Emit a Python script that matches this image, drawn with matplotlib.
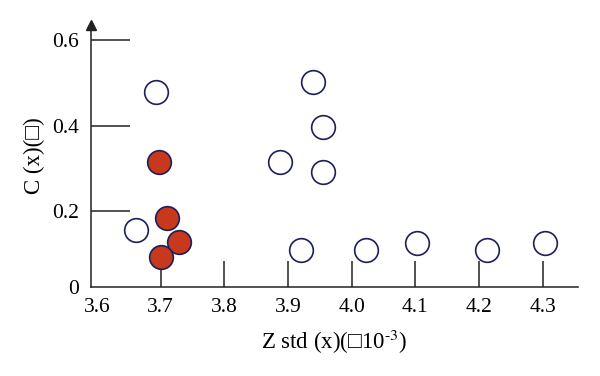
import numpy as np
import matplotlib
matplotlib.use("Agg")
import matplotlib.pyplot as plt

plt.rcParams['font.family'] = ['Liberation Serif', 'DejaVu Sans']
plt.rcParams['mathtext.fontset'] = 'stix'

# open circles
open_x = [3.692, 3.661, 3.888, 3.921, 3.940, 3.955, 3.955, 4.022, 4.102, 4.213, 4.303]
open_y = [0.478, 0.156, 0.316, 0.111, 0.503, 0.396, 0.291, 0.111, 0.127, 0.111, 0.127]
# filled circles
fill_x = [3.697, 3.710, 3.729, 3.700]
fill_y = [0.316, 0.184, 0.128, 0.094]

xticks = [3.6, 3.7, 3.8, 3.9, 4.0, 4.1, 4.2, 4.3]
xlabels = ['3.6', '3.7', '3.8', '3.9', '4.0', '4.1', '4.2', '4.3']
ybot = 0.0235
yticks = [ybot, 0.2, 0.4, 0.6]
ylabels = ['0', '0.2', '0.4', '0.6']

edge = '#1c1f5c'
red = '#c8381c'
fs = 15.5

fig = plt.figure(figsize=(6, 3.76), dpi=100)
ax = fig.add_axes([0.1517, 0.2367, 0.963 - 0.1517, 0.9346 - 0.2367])

ax.scatter(open_x, open_y, s=290, facecolor='white', edgecolor=edge,
           linewidth=1.2, zorder=3, clip_on=False)
ax.scatter(fill_x, fill_y, s=290, facecolor=red, edgecolor=edge,
           linewidth=1.2, zorder=3, clip_on=False)

ax.set_xlim(3.5906, 4.3551)
ax.set_ylim(ybot, 0.636)

for s in ['top', 'right']:
    ax.spines[s].set_visible(False)
for s in ['left', 'bottom']:
    ax.spines[s].set_color('#222222')
    ax.spines[s].set_linewidth(1.1)

ax.set_xticks(xticks)
ax.set_xticklabels(xlabels)
ax.set_yticks(yticks)
ax.set_yticklabels(ylabels)
ax.tick_params(axis='x', direction='in', length=19, width=1.1, color='#222222',
               labelsize=fs, pad=8)
ax.tick_params(axis='y', direction='in', length=28, width=1.1, color='#222222',
               labelsize=fs, pad=9)
# no tick marks at the corner
ax.xaxis.get_major_ticks()[0].tick1line.set_visible(False)
ax.yaxis.get_major_ticks()[0].tick1line.set_visible(False)

# arrow at top of y axis
ax.plot([0], [1.0], marker='^', color='#222222', markersize=7,
        transform=ax.transAxes, clip_on=False)

ax.set_xlabel('Z std (x)(\u25a110$^{\\text{-3}}$)', fontsize=16.5, labelpad=8)
ax.set_ylabel('C (x)(\u25a1)', fontsize=16.5, labelpad=5)

fig.savefig('out.png', dpi=100)
